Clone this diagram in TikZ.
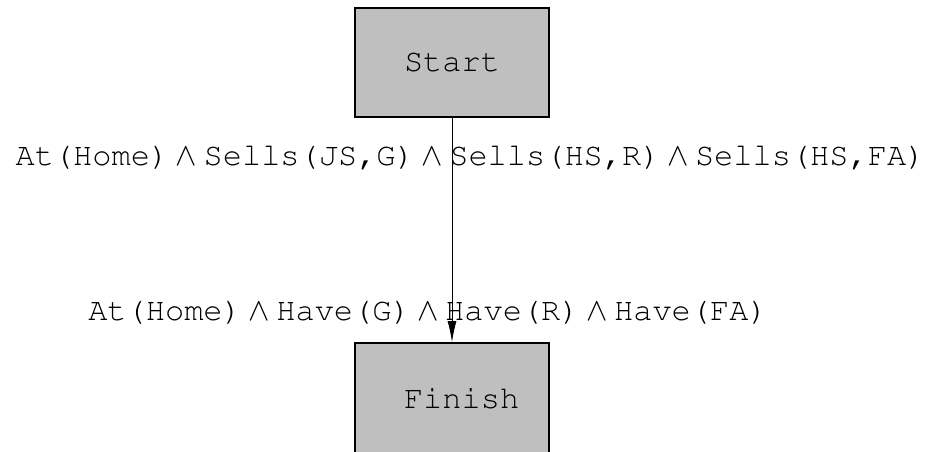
\RequirePackage{fix-cm}
\documentclass[tikz,border=0pt]{standalone}
\usepackage[T1]{fontenc}
\usepackage{courier}
\usetikzlibrary{arrows.meta}
\newcommand{\conj}{$\mskip3.7mu{\wedge}\mskip3.7mu$}

\begin{document}
\begin{tikzpicture}[x=1pt,y=1pt,font=\ttfamily\fontsize{32}{38}\selectfont,
  stepbox/.style={draw,line width=2pt,fill=black!25,minimum width=194pt,minimum height=109pt,inner sep=0pt}]
\useasboundingbox (0,0) rectangle (930,-451);
\node[stepbox] (start) at (452,-62.5) {Start};
\node[stepbox,minimum height=112pt] (finish) at (452,-399) {\hphantom{x}Finish};
\draw[line width=0.8pt,-{Latex[length=21pt,width=9pt]}] (start) -- (finish);
\node (effects) at (470.5,-157.5) {At(Home)\conj Sells(JS,G)\conj Sells(HS,R)\conj Sells(HS,FA)};
\node (goals) at (428,-312.5) {At(Home)\conj Have(G)\conj Have(R)\conj Have(FA)};
\end{tikzpicture}
\end{document}
